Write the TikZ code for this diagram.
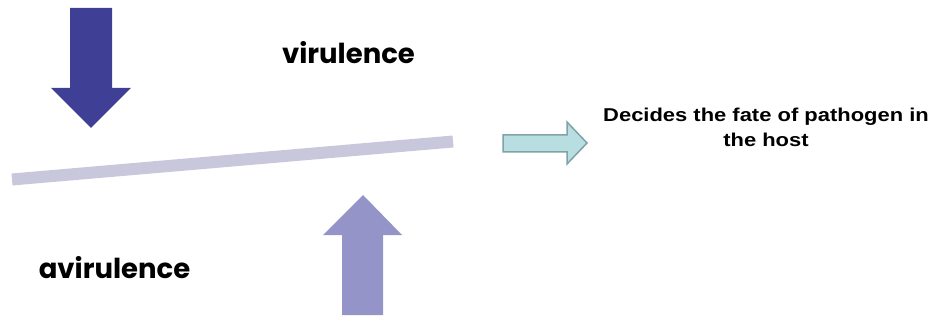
\documentclass[tikz,border=0pt]{standalone}
\usepackage{fontspec}
\newfontfamily\arialfont[FakeStretch=1.18]{Liberation Sans}
\newfontfamily\geofont{Poppins}
\definecolor{darkarrow}{HTML}{3F3F96}
\definecolor{lightarrow}{HTML}{9494C8}
\definecolor{barcol}{HTML}{C9C7DC}
\definecolor{tealfill}{HTML}{B9DEE1}
\definecolor{tealdraw}{HTML}{7FA3A6}
\begin{document}
\begin{tikzpicture}[x=1pt,y=-1pt,
  bigword/.style={font=\geofont\bfseries\fontsize{27.5}{32}\selectfont, inner sep=0pt},
  fatetext/.style={font=\arialfont\bfseries\fontsize{18.6}{25.7}\selectfont, align=center, inner sep=0pt}]
\useasboundingbox (0,0) rectangle (933,320);
% down arrow
\fill[darkarrow] (70,8) -- (112,8) -- (112,88) -- (131,88) -- (91,128) -- (51,88) -- (70,88) -- cycle;
% up arrow
\fill[lightarrow] (342,315) -- (383,315) -- (383,235) -- (402,235) -- (363,195) -- (323,235) -- (342,235) -- cycle;
% balance bar
\draw[barcol, line width=12pt] (12,179.5) -- (453,141.5);
% right block arrow
\draw[tealdraw, fill=tealfill, line width=1.5pt, line join=miter] (503,135) -- (567,135) -- (567,122) -- (587,143) -- (567,164) -- (567,152) -- (503,152) -- cycle;
% texts
\node[bigword] (vir) at (348.5,53) {virulence};
\node[bigword] (avir) at (114.5,268) {avirulence};
\node[fatetext] (fate) at (766,127.5) {Decides the fate of pathogen in\\the host};
\end{tikzpicture}
\end{document}
